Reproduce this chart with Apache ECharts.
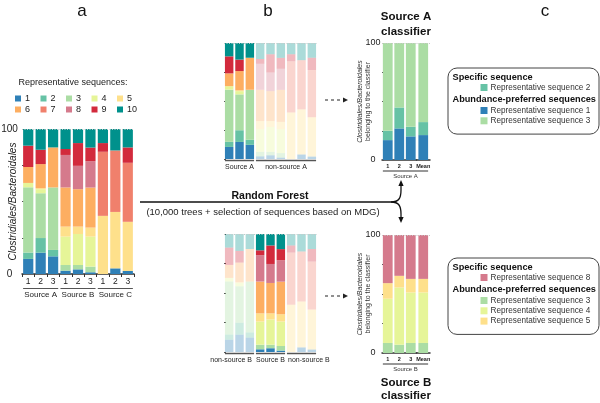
<!DOCTYPE html>
<html><head><meta charset="utf-8">
<script src="https://cdn.jsdelivr.net/npm/echarts@6/dist/echarts.min.js"></script>
<style>html,body{margin:0;padding:0;background:#fff}#c{width:600px;height:403px}</style>
</head><body><div id="c"></div>
<script>
const FONT = '"Liberation Sans", Arial, Helvetica, sans-serif';

// ---------- data ----------
const seqNames = ['1','2','3','4','5','6','7','8','9','10'];
const seqColors = ['#2f80b7','#66c2a5','#abdda4','#e6f598','#fee08b','#fdae61','#f0806c','#d57a8c','#d22a3c','#00918c'];
const samples = ['A1','A2','A3','B1','B2','B3','C1','C2','C3'];
const sampleTicks = ['1','2','3','1','2','3','1','2','3'];
const sourceGroups = ['Source A','Source B','Source C'];
const seq1  = [10.4,14.7,12.2, 2.3, 3.2, 1.2,  0.0, 3.9, 2.1];
const seq2  = [ 4.4,10.1, 4.4, 0.0, 0.0, 0.0,  0.0, 0.0, 0.0];
const seq3  = [45.0,30.9,43.1, 3.9, 3.0, 3.9,  0.0, 0.0, 0.0];
const seq4  = [ 3.0, 2.8, 0.0,19.6,21.4,20.7,  0.0, 0.0, 0.0];
const seq5  = [ 0.0, 0.7, 0.0, 6.9, 5.1, 6.2, 40.1,38.9,33.9];
const seq6  = [11.0,16.6,27.6,27.0,25.8,27.6,  0.0, 0.0, 0.0];
const seq7  = [ 0.0, 0.0, 0.0, 0.0, 0.0, 0.0, 44.2,42.4,40.7];
const seq8  = [ 0.0, 0.0, 0.0,22.4,16.1,18.2,  0.0, 0.0, 0.0];
const seq9  = [14.7, 9.9, 0.0, 4.1,15.7, 9.4,  6.0, 0.0,10.6];
const seq10 = [11.5,14.3,12.7,13.8, 9.7,12.8,  9.7,14.8,12.7];
const seqData = [seq1,seq2,seq3,seq4,seq5,seq6,seq7,seq8,seq9,seq10];

const topGroups = [{label:'Source A', src:['A']}, {label:'non-source A', src:['B','C']}];
const bottomGroups = [{label:'non-source B', src:['A'], align:'right'}, {label:'Source B', src:['B'], align:'center'}, {label:'non-source B', src:['C'], align:'left'}];

const clsCats = ['1','2','3','Mean'];
const clsA_seq1 = [17.0,27.0,20.2,21.3];
const clsA_seq2 = [ 8.0,17.9, 8.2,11.1];
const clsA_seq3 = [75.0,55.1,71.6,67.6];
const clsB_seq3 = [ 8.5, 7.0, 8.5, 8.5];
const clsB_seq4 = [37.5,48.5,42.8,42.8];
const clsB_seq5 = [13.2, 9.9,11.5,11.5];
const clsB_seq8 = [40.8,34.6,37.2,37.2];

const boxA_specific = [2];
const boxA_abundance = [1,3];
const boxB_specific = [8];
const boxB_abundance = [3,4,5];

// ---------- chart ----------
const chart = echarts.init(document.getElementById('c'));
const grids = [
  {left:22,  top:129, width:112, height:145},   // 0 panel a
  {left:224, top:43,  width:93,  height:116},   // 1 panel b top
  {left:224, top:234, width:93,  height:118},   // 2 panel b bottom
  {left:382, top:43,  width:34.5, height:117},  // 3 classifier A samples
  {left:416.5, top:43, width:13.5, height:117}, // 4 classifier A mean
  {left:382, top:235, width:34.5, height:118},  // 5 classifier B samples
  {left:416.5, top:235, width:13.5, height:118} // 6 classifier B mean
];
const BAR = 0.82, CBAR = 0.85, MBAR = 0.72;

function yAx(gi, show, size, margin, name, nameGap, nameStyle, ticks){
  return {
    type:'value', gridIndex:gi, min:0, max:100, interval:25,
    axisLine:{show:false},
    axisTick:{show:ticks!==false, inside:true, length:2, lineStyle:{color:'#555', width:1}},
    axisLabel:{show:show, fontSize:size, color:'#222', align:'center', margin:margin,
      formatter:v => (v===0||v===100) ? String(v) : ''},
    splitLine:{show:false},
    name:name||'', nameLocation:'middle', nameGap:nameGap||0, nameTextStyle:nameStyle||{},
    nameMoveOverlap:false
  };
}
const topLine = {silent:true, symbol:['none','none'], label:{show:false}, animation:false,
  lineStyle:{type:[1,1.5], color:'#c8c8c8', width:1}, data:[{yAxis:100}]};

const series = [];
seqData.forEach((arr,k)=>{
  series.push({name:seqNames[k], type:'bar', stack:'a', xAxisIndex:0, yAxisIndex:0, barWidth:(BAR*100)+'%',
    data:arr, itemStyle:{color:seqColors[k]}, markLine:k===9?topLine:undefined});
});
[[1,'A'],[2,'B']].forEach(([gi,src])=>{
  seqData.forEach((arr,k)=>{
    series.push({name:seqNames[k], type:'bar', stack:'b'+gi, xAxisIndex:gi, yAxisIndex:gi, barWidth:(BAR*100)+'%',
      data:arr.map((v,i)=>({value:v, itemStyle:{opacity: samples[i][0]===src ? 1 : 0.33}})),
      itemStyle:{color:seqColors[k]}, markLine:k===9?topLine:undefined});
  });
});
function addCls(id, gS, gM, list){
  list.forEach(([arr,s],j)=>{
    const last = j===list.length-1;
    series.push({name:id+s, type:'bar', stack:id+'s', xAxisIndex:gS, yAxisIndex:gS, barWidth:(CBAR*100)+'%',
      data:arr.slice(0,3), itemStyle:{color:seqColors[s-1]}, markLine:last?topLine:undefined});
    series.push({name:id+s, type:'bar', stack:id+'m', xAxisIndex:gM, yAxisIndex:gM, barWidth:(MBAR*100)+'%',
      data:arr.slice(3), itemStyle:{color:seqColors[s-1]}, markLine:last?topLine:undefined});
  });
}
addCls('cA', 3, 4, [[clsA_seq1,1],[clsA_seq2,2],[clsA_seq3,3]]);
addCls('cB', 5, 6, [[clsB_seq3,3],[clsB_seq4,4],[clsB_seq5,5],[clsB_seq8,8]]);

const clsName = '{i|Clostridiales/Bacteroidales}\n{n|belonging to the classifier}';
const clsNameStyle = {color:'#333', lineHeight:8, rich:{i:{fontStyle:'italic', fontSize:7, color:'#333', lineHeight:8}, n:{fontSize:7, color:'#333', lineHeight:8}}};

const catX = (gi,data,labels,sz,show,bold)=>({
  type:'category', gridIndex:gi, data:data,
  axisLine:{show:show, lineStyle:{color:'#333', width:1.5}},
  axisTick:{show:gi===0, length:3, lineStyle:{color:'#333'}},
  axisLabel:{show:show, interval:0, margin:3, color:'#222', fontSize:sz, fontWeight: bold?'bold':'normal',
    formatter:(v,i)=>labels[i]}
});

const legendCommon = {icon:'rect', itemWidth:6, itemHeight:6, itemGap:10.5, orient:'horizontal',
  textStyle:{fontSize:9, color:'#222', padding:[0,0,0,-1]}, selectedMode:false};

const option = {
  animation:false,
  textStyle:{fontFamily:FONT},
  grid: grids.map(g=>Object.assign({outerBoundsMode:'none', containLabel:false}, g)),
  legend:[
    Object.assign({data:seqNames.slice(0,5), left:10, top:89}, legendCommon),
    Object.assign({data:seqNames.slice(5), left:10, top:100}, legendCommon)
  ],
  xAxis:[
    catX(0, samples, sampleTicks, 8.5, true, false),
    catX(1, samples, sampleTicks, 8, false, false),
    catX(2, samples, sampleTicks, 8, false, false),
    catX(3, clsCats.slice(0,3), clsCats.slice(0,3), 5.5, true, true),
    catX(4, clsCats.slice(3), clsCats.slice(3), 5.5, true, true),
    catX(5, clsCats.slice(0,3), clsCats.slice(0,3), 5.5, true, true),
    catX(6, clsCats.slice(3), clsCats.slice(3), 5.5, true, true)
  ],
  yAxis:[
    yAx(0, true, 10, 12.5, 'Clostridiales/Bacteroidales', 4, {fontStyle:'italic', fontSize:10, color:'#222'}),
    yAx(1, false, 9, 8),
    yAx(2, false, 9, 8),
    yAx(3, true, 9, 9, clsName, 10, clsNameStyle),
    yAx(4, false, 9, 9, '', 0, {}, false),
    yAx(5, true, 9, 9, clsName, 10, clsNameStyle),
    yAx(6, false, 9, 9, '', 0, {}, false)
  ],
  series: series
};
chart.setOption(option);

// ---------- annotations ----------
const G = [];
const txt = (t,x,y,size,opt)=>G.push({type:'text', silent:true, z:100, style:Object.assign({text:t, x:x, y:y, fill:'#111',
  font:(opt&&opt.weight?opt.weight+' ':'')+(opt&&opt.italic?'italic ':'')+size+'px '+FONT, align:'center', verticalAlign:'middle'}, opt&&opt.style||{})});
const ln = (x1,y1,x2,y2,color,w,dash)=>G.push({type:'line', silent:true, z:100, shape:{x1,y1,x2,y2}, style:{stroke:color, lineWidth:w, lineDash:dash||null}});
const px = (xi,c)=>chart.convertToPixel({xAxisIndex:xi}, c);

function span(xi, cats, all, ratio){
  const band = Math.abs(px(xi, all[1]) - px(xi, all[0]));
  const hb = band*ratio/2;
  return [px(xi, cats[0]) - hb, px(xi, cats[cats.length-1]) + hb];
}

// panel letters
txt('a', 82, 11, 17); txt('b', 268, 11, 17); txt('c', 545, 11, 17);
// panel a legend title
txt('Representative sequences:', 73, 83, 9, {style:{fill:'#222'}});
// panel a groups
['A','B','C'].forEach((s,i)=>{
  const cats = samples.filter(c=>c[0]===s);
  const [a,b] = span(0, cats, samples, BAR);
  ln(a, 288.5, b, 288.5, '#555', 1);
  txt(sourceGroups[i], (a+b)/2, 294.5, 8, {style:{fill:'#222'}});
});
// panel b groups
function bGroups(gi, groups, yLine){
  const spans = groups.map(gr=>span(gi, samples.filter(c=>gr.src.includes(c[0])), samples, BAR));
  groups.forEach((gr,j)=>{
    const [a,b] = spans[j];
    ln(a, yLine, b, yLine, '#555', 1.5);
    let x = (a+b)/2, al = 'center';
    if (gr.align==='right') { x = spans[j+1][0] - 4; al = 'right'; }
    if (gr.align==='left') { x = spans[j-1][1] + 3; al = 'left'; }
    txt(gr.label, x, yLine+7, 7, {style:{fill:'#222', align:al}});
  });
}
bGroups(1, topGroups, 160.5);
bGroups(2, bottomGroups, 353.5);
// classifier groups
function clsGroup(gS, gM, label, bottom){
  const s3 = clsCats.slice(0,3);
  const a = span(gS, s3, s3, CBAR)[0];
  const b = px(gM, clsCats[3]) + grids[gM].width*MBAR/2;
  ln(a, bottom+11, b, bottom+11, '#333', 1);
  txt(label, (a+b)/2, bottom+16, 6, {style:{fill:'#333'}});
}
clsGroup(3, 4, 'Source A', 160);
clsGroup(5, 6, 'Source B', 353);
txt('Source A', 406, 17, 11.5, {weight:'bold'});
txt('classifier', 406, 32, 11.5, {weight:'bold'});
txt('Source B', 406, 383, 11.5, {weight:'bold'});
txt('classifier', 406, 396, 11.5, {weight:'bold'});

// dashed arrows
function dashArrow(y){
  ln(325, y, 343, y, '#222', 1, [3,3]);
  G.push({type:'polygon', silent:true, shape:{points:[[343,y-2.5],[348,y],[343,y+2.5]]}, style:{fill:'#222'}});
}
dashArrow(100); dashArrow(296);

// random forest
const AX = 401, LY = 202;
ln(140, LY, AX-10, LY, '#111', 1.3);
G.push({type:'bezierCurve', silent:true, shape:{x1:AX-10,y1:LY,cpx1:AX-2,cpy1:LY,cpx2:AX,cpy2:LY-4,x2:AX,y2:LY-12}, style:{stroke:'#111', lineWidth:1.3, fill:null}});
G.push({type:'bezierCurve', silent:true, shape:{x1:AX-10,y1:LY,cpx1:AX-2,cpy1:LY,cpx2:AX,cpy2:LY+4,x2:AX,y2:LY+12}, style:{stroke:'#111', lineWidth:1.3, fill:null}});
ln(AX, LY-12, AX, LY-17, '#111', 1.3);
ln(AX, LY+12, AX, LY+16, '#111', 1.3);
G.push({type:'polygon', silent:true, shape:{points:[[AX-2.6,LY-16],[AX,LY-22],[AX+2.6,LY-16]]}, style:{fill:'#111'}});
G.push({type:'polygon', silent:true, shape:{points:[[AX-2.6,LY+15],[AX,LY+21],[AX+2.6,LY+15]]}, style:{fill:'#111'}});
txt('Random Forest', 270, 196, 10.5, {weight:'bold'});
txt('(10,000 trees + selection of sequences based on MDG)', 263, 212.5, 9.5, {style:{fill:'#222'}});

// legend boxes (panel c)
function box(top, specific, abundance){
  const L = 448, W = 151;
  let y = top + 9;
  const items = [];
  txt('Specific sequence', L+4.5, y, 9.2, {weight:'bold', style:{align:'left'}}); y += 10.5;
  specific.forEach(s=>{ items.push([s,y]); y += 10.5; });
  y += 1.5;
  txt('Abundance-preferred sequences', L+4.5, y, 9.2, {weight:'bold', style:{align:'left'}}); y += 11;
  abundance.forEach(s=>{ items.push([s,y]); y += 10.3; });
  items.forEach(([s,yy])=>{
    G.push({type:'rect', silent:true, shape:{x:L+32.5, y:yy-3.5, width:7, height:7}, style:{fill:seqColors[s-1]}});
    txt('Representative sequence '+s, L+42.5, yy, 8.2, {style:{align:'left', fill:'#333'}});
  });
  G.push({type:'rect', silent:true, shape:{x:L, y:top, width:W, height:y-top+3, r:9}, style:{fill:'none', stroke:'#444', lineWidth:1}});
}
box(68, boxA_specific, boxA_abundance);
box(258, boxB_specific, boxB_abundance);

chart.setOption({graphic:{elements:G}});
</script></body></html>
